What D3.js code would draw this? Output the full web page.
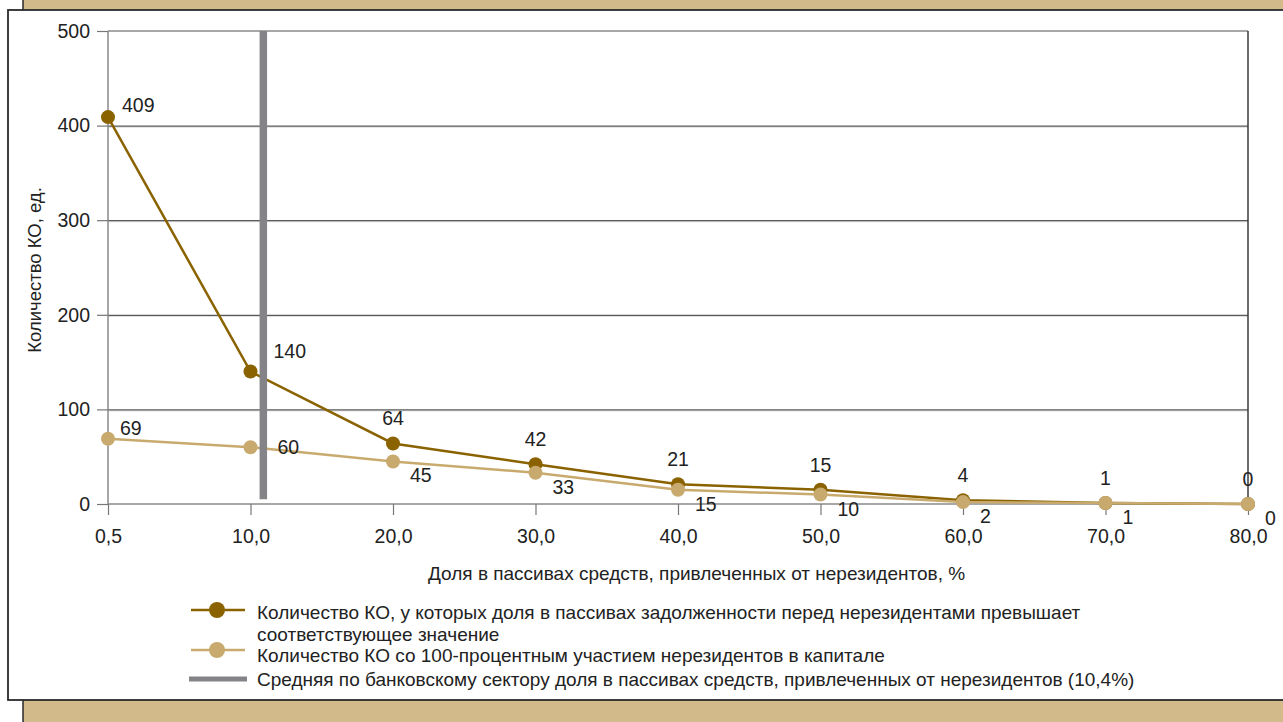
<!DOCTYPE html>
<html><head><meta charset="utf-8">
<script src="https://cdn.jsdelivr.net/npm/d3@7"></script>
<style>
html,body{margin:0;padding:0;background:#fff;overflow:hidden}
text{font-family:"Liberation Sans",Arial,Helvetica,sans-serif;fill:#222}
</style></head>
<body><svg id="c" width="1283" height="722"></svg>
<script>
// ---- data ----
const categories = ["0,5","10,0","20,0","30,0","40,0","50,0","60,0","70,0","80,0"];
const seriesAbove = [409,140,64,42,21,15,4,1,0];   // share of liabilities to non-residents exceeds value
const seriesFull  = [69,60,45,33,15,10,2,1,0];     // 100% non-resident capital
const yTicks = [0,100,200,300,400,500];
const avgShare = 10.4;          // banking sector average, %
const avgCategoryIndex = 1.09;  // where the average line sits on the category axis
const seriesNames = [
  ["Количество КО, у которых доля в пассивах задолженности перед нерезидентами превышает","соответствующее значение"],
  ["Количество КО со 100-процентным участием нерезидентов в капитале"],
  ["Средняя по банковскому сектору доля в пассивах средств, привлеченных от нерезидентов (10,4%)"]
];
const xTitle = "Доля в пассивах средств, привлеченных от нерезидентов, %";
const yTitle = "Количество КО, ед.";

(function(){
// ---- styles ----
const darkColor = "#8a6300", lightColor = "#c9aa6e", avgColor = "#848488", tan = "#d3ba8b";
const FS = "19.5px", LFS = "19px";

const svg = d3.select("#c");
// background frame
svg.append("rect").attr("x",23).attr("y",-20).attr("width",1300).attr("height",752)
  .attr("rx",12).attr("fill",tan).attr("stroke","#2a2a2a").attr("stroke-width",1.5);
svg.append("rect").attr("x",8).attr("y",10).attr("width",1300).attr("height",690)
  .attr("fill","#fff").attr("stroke","#2a2a2a").attr("stroke-width",1.8);

const pL=108, pR=1248, pT=31, pB=504;
const x = d3.scalePoint().domain(categories).range([pL,pR]);
const xi = d3.scaleLinear().domain([0,categories.length-1]).range([pL,pR]);
const y = d3.scaleLinear().domain([0,500]).range([pB,pT]);

// gridlines
const g = svg.append("g");
yTicks.filter(t=>t>0 && t<500).forEach(t=>{
  g.append("line").attr("x1",pL).attr("x2",pR).attr("y1",y(t)+1.5).attr("y2",y(t)+1.5)
    .attr("stroke","#d6d6d6").attr("stroke-width",1);
  g.append("line").attr("x1",pL).attr("x2",pR).attr("y1",y(t)+0.5).attr("y2",y(t)+0.5)
    .attr("stroke","#333").attr("stroke-width",1);
});
g.append("line").attr("x1",pL).attr("x2",pR).attr("y1",y(500)).attr("y2",y(500))
  .attr("stroke","#8a8a8a").attr("stroke-width",1.5);
g.append("line").attr("x1",pR).attr("x2",pR).attr("y1",y(500)).attr("y2",y(0))
  .attr("stroke","#3a3a3a").attr("stroke-width",1.5);

// axes
const yAxis = svg.append("g").attr("transform",`translate(${pL},0)`)
  .call(d3.axisLeft(y).tickValues(yTicks).tickSize(11).tickPadding(7).tickFormat(d3.format("d")));
const xAxis = svg.append("g").attr("transform",`translate(0,${pB})`)
  .call(d3.axisBottom(x).tickSize(11).tickPadding(14));
[yAxis,xAxis].forEach(a=>{
  a.select(".domain").attr("stroke","#8a8a8a").attr("stroke-width",1.5);
  a.selectAll(".tick line").attr("stroke","#777").attr("stroke-width",1.2);
  a.selectAll("text").style("font-size",FS).attr("fill","#222");
});
yAxis.select(".domain").attr("d",`M0,${pB}V${pT}`);
xAxis.select(".domain").attr("d",`M${pL},0H${pR}`);

// titles
svg.append("text").attr("x",428).attr("y",573).attr("text-anchor","start").attr("dominant-baseline","central")
  .style("font-size",LFS).text(xTitle);
svg.append("text").attr("transform","translate(34,270) rotate(-90)").attr("text-anchor","middle")
  .attr("dominant-baseline","central").style("font-size","18.5px").text(yTitle);

// lines
const line = d3.line().x((d,i)=>x(categories[i])).y(d=>y(d));
svg.append("path").datum(seriesAbove).attr("d",line).attr("fill","none")
  .attr("stroke",darkColor).attr("stroke-width",2.5);
svg.append("g").selectAll("circle").data(seriesAbove).join("circle")
  .attr("cx",(d,i)=>x(categories[i])).attr("cy",d=>y(d)).attr("r",7).attr("fill",darkColor);
svg.append("path").datum(seriesFull).attr("d",line).attr("fill","none")
  .attr("stroke",lightColor).attr("stroke-width",2.5);
svg.append("g").selectAll("circle").data(seriesFull).join("circle")
  .attr("cx",(d,i)=>x(categories[i])).attr("cy",d=>y(d)).attr("r",7).attr("fill",lightColor);

// average line
svg.append("line").attr("x1",xi(avgCategoryIndex)).attr("x2",xi(avgCategoryIndex))
  .attr("y1",y(500)).attr("y2",y(5)).attr("stroke",avgColor).attr("stroke-width",7.5);

// value labels
svg.append("g").selectAll("text").data(seriesAbove).join("text")
  .attr("x",(d,i)=>x(categories[i]) + (i===0?14:(i===1?23:0)))
  .attr("y",(d,i)=>y(d) + (i===0?-12:(i===1?-21:-25)))
  .attr("text-anchor",(d,i)=>i<2?"start":"middle").attr("dominant-baseline","central")
  .style("font-size",FS).text(d=>d);
svg.append("g").selectAll("text").data(seriesFull).join("text")
  .attr("x",(d,i)=>x(categories[i]) + (i===0?12:(i===1?27:17)))
  .attr("y",(d,i)=>y(d) + (i===0?-11:(i===1?0:14)))
  .attr("text-anchor","start").attr("dominant-baseline","central")
  .style("font-size",FS).text(d=>d);

// legend
const lg = svg.append("g");
const lx1=191, lx2=245, lcx=217, tx=257;
const rows=[612,655,679];
lg.append("line").attr("x1",lx1).attr("x2",lx2).attr("y1",rows[0]-2).attr("y2",rows[0]-2).attr("stroke",darkColor).attr("stroke-width",2.5);
lg.append("circle").attr("cx",lcx).attr("cy",rows[0]-2).attr("r",8).attr("fill",darkColor);
lg.append("line").attr("x1",lx1).attr("x2",lx2).attr("y1",rows[1]-5).attr("y2",rows[1]-5).attr("stroke",lightColor).attr("stroke-width",2.5);
lg.append("circle").attr("cx",lcx).attr("cy",rows[1]-5).attr("r",8).attr("fill",lightColor);
lg.append("line").attr("x1",lx1-2).attr("x2",lx2+2).attr("y1",rows[2]).attr("y2",rows[2]).attr("stroke",avgColor).attr("stroke-width",5);
const t1 = lg.append("text").attr("x",tx).attr("y",rows[0]).attr("dominant-baseline","central").style("font-size",LFS);
t1.append("tspan").attr("x",tx).text(seriesNames[0][0]);
t1.append("tspan").attr("x",tx).attr("dy",21.5).text(seriesNames[0][1]);
lg.append("text").attr("x",tx).attr("y",rows[1]).attr("dominant-baseline","central").style("font-size",LFS).text(seriesNames[1][0]);
lg.append("text").attr("x",tx).attr("y",rows[2]).attr("dominant-baseline","central").style("font-size",LFS).text(seriesNames[2][0]);
})();
</script></body></html>
